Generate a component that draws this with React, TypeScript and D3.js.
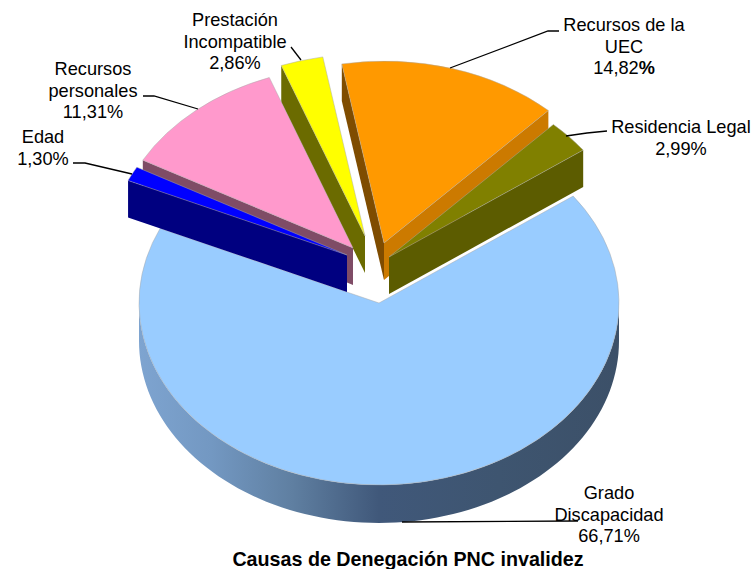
import * as d3 from 'd3'

// Slices in clockwise order, starting at the right edge of "Grado Discapacidad"
const categories = [
  'Grado Discapacidad',
  'Edad',
  'Recursos personales',
  'Prestación Incompatible',
  'Recursos de la UEC',
  'Residencia Legal',
]
const values = [66.71, 1.3, 11.31, 2.86, 14.82, 2.99]
const labelLines = [
  ['Grado', 'Discapacidad'],
  ['Edad'],
  ['Recursos', 'personales'],
  ['Prestación', 'Incompatible'],
  ['Recursos de la', 'UEC'],
  ['Residencia Legal'],
]
const topColors = ['#99ccff', '#0000ff', '#ff99cc', '#ffff00', '#ff9900', '#808000']
const startWallColors = ['none', '#000080', '#7f4c66', '#6b6b00', '#7f4c00', 'none']
const endWallColors = ['none', 'none', 'none', 'none', '#cc7a00', '#5c5c00']

const W = 754
const H = 569
const RX = 240
const TILT = 0.758
const DEPTH = 37
const START_DEG = 54

// where each exploded slice's tip lands
const apexes: [number, number][] = [
  [379, 303],
  [347, 255],
  [353, 248],
  [365, 236],
  [384, 243],
  [389, 257],
]
// paint order, back to front
const paintOrder = [0, 3, 4, 5, 2, 1]

const labelPos: { x: number; y: number }[] = [
  { x: 609, y: 499 },
  { x: 43, y: 143 },
  { x: 93, y: 75 },
  { x: 235, y: 26 },
  { x: 624, y: 31 },
  { x: 681, y: 133 },
]
const leaders: [number, number][][] = [
  [[578, 521], [402, 522]],
  [[73, 163], [85, 163], [132, 174]],
  [[143, 96], [154, 96], [198, 109]],
  [[291, 47], [301, 60]],
  [[559, 31], [548, 31], [450, 68]],
  [[607, 131], [587, 133], [566, 136]],
]

const pie = d3
  .pie<number>()
  .sort(null)
  .startAngle((START_DEG * Math.PI) / 180)
  .endAngle((START_DEG * Math.PI) / 180 + 2 * Math.PI)
const arcs = pie(values)
const arcGen = d3.arc<d3.PieArcDatum<number>>().innerRadius(0).outerRadius(RX)
const line = d3.line()

// projects a pie angle onto the tilted disc
function project(apex: [number, number], a: number, dy = 0): [number, number] {
  return [apex[0] + RX * Math.sin(a), apex[1] - RX * TILT * Math.cos(a) + dy]
}

function wallPath(apex: [number, number], a: number) {
  return line([
    [apex[0], apex[1]],
    project(apex, a),
    project(apex, a, DEPTH),
    [apex[0], apex[1] + DEPTH],
  ]) + 'Z'
}

function rimPath(apex: [number, number]) {
  const angles = d3.range(90, 270.5, 2).map((d) => (d * Math.PI) / 180)
  const top = angles.map((a) => project(apex, a))
  const bottom = angles.map((a) => project(apex, a, DEPTH + 1)).reverse()
  return line([...top, ...bottom]) + 'Z'
}

function pct(v: number) {
  return v.toFixed(2).replace('.', ',')
}

export default function App() {
  return (
    <svg
      width={W}
      height={H}
      viewBox={`0 0 ${W} ${H}`}
      style={{ position: 'absolute', left: 0, top: 0, background: '#fff' }}
      fontFamily="'Liberation Sans', Arial, sans-serif"
    >
      <defs>
        <linearGradient id="rim" gradientUnits="userSpaceOnUse" x1={139} x2={619} y1={0} y2={0}>
          <stop offset="0" stopColor="#7ea4d0" />
          <stop offset="0.15" stopColor="#7398c2" />
          <stop offset="0.32" stopColor="#5f7fa1" />
          <stop offset="0.5" stopColor="#40587a" />
          <stop offset="0.75" stopColor="#3e5570" />
          <stop offset="1" stopColor="#3c5068" />
        </linearGradient>
      </defs>

      <path d={rimPath(apexes[0])} fill="url(#rim)" />

      {paintOrder.map((i) => {
        const d = arcs[i]
        const apex = apexes[i]
        return (
          <g key={categories[i]}>
            {startWallColors[i] !== 'none' && (
              <path d={wallPath(apex, d.startAngle)} fill={startWallColors[i]} />
            )}
            {endWallColors[i] !== 'none' && (
              <path d={wallPath(apex, d.endAngle)} fill={endWallColors[i]} />
            )}
            <path
              d={arcGen(d) ?? ''}
              transform={`translate(${apex[0]},${apex[1]}) scale(1,${TILT})`}
              fill={topColors[i]}
              stroke="#a8a8a8"
              strokeOpacity={0.6}
              strokeWidth={0.8}
              vectorEffect="non-scaling-stroke"
            />
          </g>
        )
      })}

      {leaders.map((pts, i) => (
        <path key={i} d={line(pts) ?? ''} fill="none" stroke="#000" strokeWidth={1.3} />
      ))}

      {categories.map((c, i) => {
        const pos = labelPos[i]
        const lines = labelLines[i]
        return (
          <text key={c} textAnchor="middle" fontSize={18.2} fill="#000">
            {lines.map((l, k) => (
              <tspan key={k} x={pos.x} y={pos.y + k * 21.5}>
                {l}
              </tspan>
            ))}
            <tspan x={pos.x} y={pos.y + lines.length * 21.5}>
              {pct(values[i])}
              <tspan fontWeight={i === 4 ? 'bold' : 'normal'}>%</tspan>
            </tspan>
          </text>
        )
      })}

      <text x={408} y={566} textAnchor="middle" fontSize={19.7} fontWeight="bold" fill="#000">
        Causas de Denegación PNC invalidez
      </text>
    </svg>
  )
}
